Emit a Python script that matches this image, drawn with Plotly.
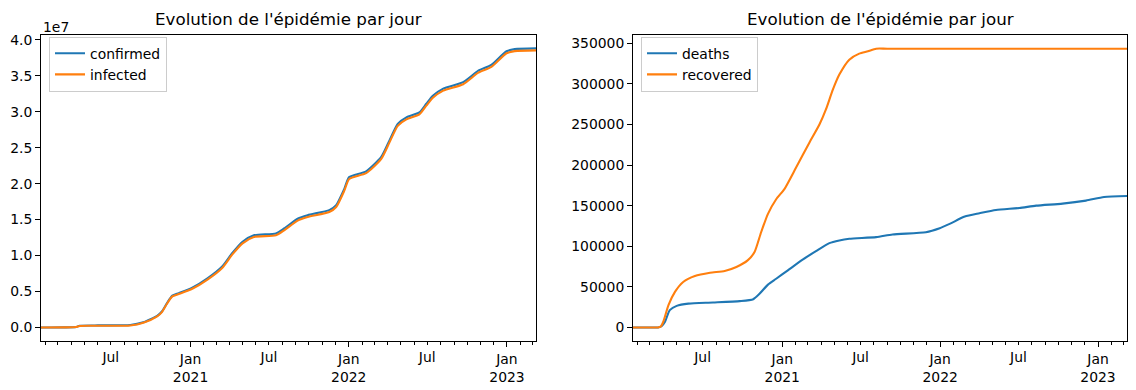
import plotly.graph_objects as go

# ---------------- data ----------------
conf_dates = ["2020-01-22", "2020-03-15", "2020-04-12", "2020-04-20", "2020-06-01", "2020-08-15",
              "2020-09-14", "2020-10-16", "2020-10-27", "2020-11-08", "2020-11-20", "2020-12-05",
              "2021-01-05", "2021-02-09", "2021-03-15", "2021-04-07", "2021-05-01", "2021-05-27",
              "2021-07-17", "2021-08-05", "2021-09-05", "2021-09-28", "2021-11-17", "2021-12-03",
              "2021-12-22", "2022-01-02", "2022-02-10", "2022-03-17", "2022-04-05", "2022-04-24",
              "2022-05-14", "2022-06-13", "2022-06-29", "2022-07-14", "2022-08-07", "2022-09-22",
              "2022-10-27", "2022-11-26", "2022-12-31", "2023-01-19", "2023-03-09"]
confirmed = [0, 5000, 60000, 240000, 280000, 330000,
             710000, 1620000, 2220000, 3420000, 4420000, 4770000,
             5520000, 6820000, 8470000, 10320000, 11920000, 12820000,
             13070000, 13770000, 15120000, 15620000, 16320000, 17020000,
             19320000, 20920000, 21720000, 23720000, 26020000, 28320000,
             29220000, 29920000, 31120000, 32220000, 33220000, 34120000,
             35720000, 36520000, 38420000, 38720000, 38830000]
infected = [0, 5000, 50000, 210000, 230000, 270000,
            650000, 1550000, 2140000, 3330000, 4320000, 4650000,
            5380000, 6660000, 8280000, 10120000, 11700000, 12580000,
            12820000, 13520000, 14870000, 15370000, 16060000, 16760000,
            19060000, 20660000, 21460000, 23450000, 25750000, 28050000,
            28950000, 29650000, 30850000, 31950000, 32950000, 33840000,
            35440000, 36240000, 38140000, 38440000, 38550000]

rec_dates = ["2020-01-22", "2020-03-10", "2020-03-20", "2020-03-26", "2020-04-01", "2020-04-13",
             "2020-04-28", "2020-05-17", "2020-06-13", "2020-07-18", "2020-08-21", "2020-09-17",
             "2020-10-13", "2020-10-29", "2020-11-13", "2020-11-29", "2020-12-18", "2021-01-06",
             "2021-02-02", "2021-03-05", "2021-03-28", "2021-04-12", "2021-04-28", "2021-05-13",
             "2021-06-05", "2021-06-28", "2021-07-18", "2021-08-06", "2021-09-01", "2023-03-09"]
recovered = [0, 0, 0, 1000, 7000, 27500,
             43800, 56000, 63400, 67500, 69600, 74500,
             82600, 92900, 117000, 140000, 158000, 170500,
             197000, 228000, 250000, 268600, 293000, 311600,
             330000, 337400, 340300, 343500, 343500, 343500]

death_dates = ["2020-01-22", "2020-03-10", "2020-03-20", "2020-03-28", "2020-04-05", "2020-04-16",
               "2020-05-02", "2020-05-29", "2020-07-25", "2020-09-25", "2020-10-26", "2020-11-10",
               "2020-11-29", "2020-12-18", "2021-01-14", "2021-02-18", "2021-03-20", "2021-04-20",
               "2021-05-13", "2021-06-05", "2021-08-06", "2021-09-13", "2021-11-29", "2021-12-31",
               "2022-01-23", "2022-02-27", "2022-04-02", "2022-05-10", "2022-07-03", "2022-08-11",
               "2022-10-11", "2022-12-04", "2023-01-15", "2023-03-09"]
deaths = [0, 0, 0, 1500, 7000, 21300,
          26600, 29400, 30700, 32400, 34800, 41700,
          52800, 60000, 70400, 83900, 94000, 103900,
          107200, 109200, 111300, 114600, 117400, 122300,
          127600, 136600, 140700, 144800, 147200, 150100,
          152600, 156300, 160700, 162000]

month_ticks = ["2020-02-01", "2020-03-01", "2020-04-01", "2020-05-01", "2020-06-01", "2020-07-01",
               "2020-08-01", "2020-09-01", "2020-10-01", "2020-11-01", "2020-12-01", "2021-01-01",
               "2021-02-01", "2021-03-01", "2021-04-01", "2021-05-01", "2021-06-01", "2021-07-01",
               "2021-08-01", "2021-09-01", "2021-10-01", "2021-11-01", "2021-12-01", "2022-01-01",
               "2022-02-01", "2022-03-01", "2022-04-01", "2022-05-01", "2022-06-01", "2022-07-01",
               "2022-08-01", "2022-09-01", "2022-10-01", "2022-11-01", "2022-12-01", "2023-01-01",
               "2023-02-01", "2023-03-01"]
jan_ticks = ["2021-01-01", "2022-01-01", "2023-01-01"]
jan_labels = ["Jan<br>2021", "Jan<br>2022", "Jan<br>2023"]
jul_ticks = ["2020-07-01", "2021-07-01", "2022-07-01"]
jul_labels = ["Jul", "Jul", "Jul"]

left_yticks = [0, 5e6, 1e7, 1.5e7, 2e7, 2.5e7, 3e7, 3.5e7, 4e7]
left_ylabels = ["0.0", "0.5", "1.0", "1.5", "2.0", "2.5", "3.0", "3.5", "4.0"]
right_yticks = [0, 50000, 100000, 150000, 200000, 250000, 300000, 350000]
right_ylabels = ["0", "50000", "100000", "150000", "200000", "250000", "300000", "350000"]

title_text = "Evolution de l'épidémie par jour"
x_range = ["2020-01-22", "2023-03-09"]

# ---------------- figure ----------------
W, H = 1136, 390
BLUE, ORANGE = "#1f77b4", "#ff7f0e"
FONT = "DejaVu Sans"
TICK_FS = 13.9
LW = 2.1
SM = 0.6

fig = go.Figure()
fig.add_trace(go.Scatter(x=conf_dates, y=confirmed, name="confirmed", mode="lines",
                         line=dict(color=BLUE, width=LW, shape="spline", smoothing=SM),
                         xaxis="x", yaxis="y", legend="legend"))
fig.add_trace(go.Scatter(x=conf_dates, y=infected, name="infected", mode="lines",
                         line=dict(color=ORANGE, width=LW, shape="spline", smoothing=SM),
                         xaxis="x", yaxis="y", legend="legend"))
fig.add_trace(go.Scatter(x=death_dates, y=deaths, name="deaths", mode="lines",
                         line=dict(color=BLUE, width=LW, shape="spline", smoothing=SM),
                         xaxis="x2", yaxis="y2", legend="legend2"))
fig.add_trace(go.Scatter(x=rec_dates, y=recovered, name="recovered", mode="lines",
                         line=dict(color=ORANGE, width=LW, shape="spline", smoothing=SM),
                         xaxis="x2", yaxis="y2", legend="legend2"))
# invisible helper traces for the overlaid "Jul" tick axes
fig.add_trace(go.Scatter(x=conf_dates, y=confirmed, mode="lines", opacity=0, showlegend=False,
                         hoverinfo="skip", xaxis="x3", yaxis="y"))
fig.add_trace(go.Scatter(x=death_dates, y=deaths, mode="lines", opacity=0, showlegend=False,
                         hoverinfo="skip", xaxis="x4", yaxis="y2"))

xd1 = [41 / W, 536 / W]
xd2 = [633 / W, 1127 / W]
yd = [1 - 341 / H, 1 - 32 / H]

tickfont = dict(family=FONT, size=TICK_FS, color="black")

def xmain(domain, anchor):
    return dict(domain=domain, anchor=anchor, type="date", range=x_range,
                showgrid=False, zeroline=False, showline=True, mirror=True,
                linecolor="black", linewidth=1.1,
                tickmode="array", tickvals=jan_ticks, ticktext=jan_labels,
                ticks="outside", ticklen=4.9, tickwidth=1.1, tickcolor="black",
                tickfont=tickfont,
                minor=dict(tickmode="array", tickvals=month_ticks, ticks="outside",
                           ticklen=2.8, tickwidth=1.0, tickcolor="black", showgrid=False))

def xover(over, anchor):
    return dict(overlaying=over, anchor=anchor, side="bottom", type="date", range=x_range,
                showgrid=False, zeroline=False, showline=False,
                tickmode="array", tickvals=jul_ticks, ticktext=jul_labels,
                ticks="outside", ticklen=2.8, tickwidth=1.0, tickcolor="black",
                tickfont=tickfont)

def yax(domain, anchor, rng, vals, labels):
    return dict(domain=domain, anchor=anchor, range=rng,
                showgrid=False, zeroline=False, showline=True, mirror=True,
                linecolor="black", linewidth=1.1,
                tickmode="array", tickvals=vals, ticktext=labels,
                ticks="outside", ticklen=4.9, tickwidth=1.1, tickcolor="black",
                tickfont=tickfont)

legend_common = dict(font=dict(family=FONT, size=TICK_FS, color="black"),
                     bgcolor="white", bordercolor="#cccccc", borderwidth=1,
                     xanchor="left", yanchor="top", tracegroupgap=0, itemwidth=30)

fig.update_layout(
    width=W, height=H,
    margin=dict(l=0, r=0, t=0, b=0),
    paper_bgcolor="white", plot_bgcolor="white",
    font=dict(family=FONT, color="black"),
    xaxis=xmain(xd1, "y"),
    xaxis2=xmain(xd2, "y2"),
    xaxis3=xover("x", "y"),
    xaxis4=xover("x2", "y2"),
    yaxis=yax(yd, "x", [-1.94e6, 4.072e7], left_yticks, left_ylabels),
    yaxis2=yax(yd, "x2", [-17175, 360675], right_yticks, right_ylabels),
    legend=dict(x=49 / W, y=1 - 34 / H, **legend_common),
    legend2=dict(x=641 / W, y=1 - 34 / H, **legend_common),
    annotations=[
        dict(text=title_text, x=(xd1[0] + xd1[1]) / 2, y=1 - 16 / H, xref="paper", yref="paper",
             xanchor="center", yanchor="middle", showarrow=False,
             font=dict(family=FONT, size=16.7, color="black")),
        dict(text=title_text, x=(xd2[0] + xd2[1]) / 2, y=1 - 16 / H, xref="paper", yref="paper",
             xanchor="center", yanchor="middle", showarrow=False,
             font=dict(family=FONT, size=16.7, color="black")),
        dict(text="1e7", x=41 / W, y=1 - 24 / H, xref="paper", yref="paper",
             xanchor="left", yanchor="middle", showarrow=False,
             font=dict(family=FONT, size=TICK_FS, color="black")),
    ],
    hovermode=False,
)

fig.write_html("out.html", config={"displayModeBar": False},
               post_script="document.body.style.margin='0px';")
